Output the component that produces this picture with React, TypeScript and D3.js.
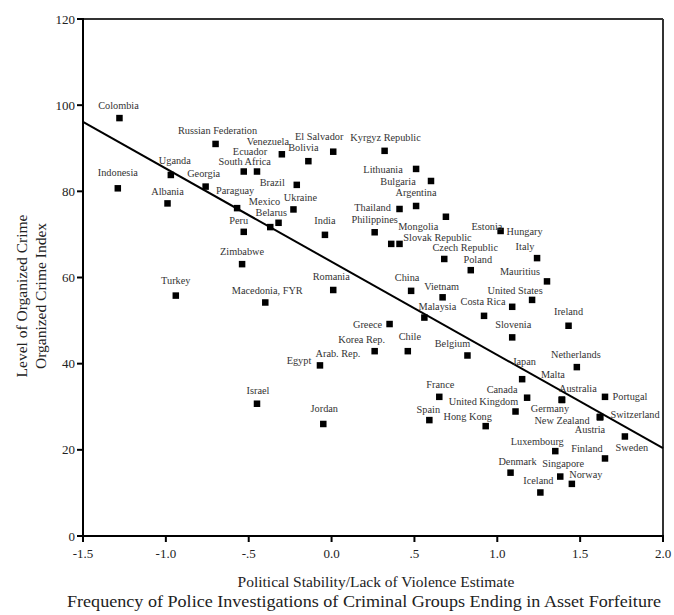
import React from "react";
import * as d3 from "d3";

const countries: string[] = [
  "Colombia", "Indonesia", "Russian Federation", "Uganda", "Georgia", "Albania",
  "South Africa", "Ecuador", "Venezuela", "Bolivia", "El Salvador", "Kyrgyz Republic",
  "Lithuania", "Bulgaria", "Argentina", "Thailand", "Brazil", "Ukraine", "Mexico",
  "Belarus", "Paraguay", "Peru", "India", "Philippines", "Mongolia", "Slovak Republic",
  "Estonia", "Hungary", "Czech Republic", "Poland", "Italy", "Mauritius", "United States",
  "", "Costa Rica", "Slovenia", "Ireland", "Romania", "China", "Vietnam", "Malaysia",
  "Greece", "Korea Rep.", "Egypt", "Chile", "Belgium", "Japan", "Netherlands", "Canada",
  "Malta", "Australia", "Germany", "United Kingdom", "Portugal", "Switzerland",
  "New Zealand", "Austria", "Sweden", "France", "Spain", "Hong Kong", "Luxembourg",
  "Finland", "Denmark", "Singapore", "Norway", "Iceland", "Zimbabwe", "Turkey",
  "Macedonia, FYR", "Israel", "Jordan",
];

const stability: number[] = [
  -1.28, -1.29, -0.70, -0.97, -0.76, -0.99,
  -0.53, -0.45, -0.30, -0.14, 0.01, 0.32,
  0.51, 0.60, 0.51, 0.41, -0.21, -0.23, -0.32,
  -0.37, -0.57, -0.53, -0.04, 0.26, 0.36, 0.41,
  0.69, 1.02, 0.68, 0.84, 1.24, 1.30, 1.21,
  1.09, 0.92, 1.09, 1.43, 0.01, 0.48, 0.67, 0.56,
  0.35, 0.26, -0.07, 0.46, 0.82, 1.15, 1.48, 1.18,
  1.39, 1.39, 1.39, 1.11, 1.65, 1.62,
  1.62, 1.62, 1.77, 0.65, 0.59, 0.93, 1.35,
  1.65, 1.08, 1.38, 1.45, 1.26, -0.54, -0.94,
  -0.40, -0.45, -0.05,
];

const crimeIndex: number[] = [
  97.0, 80.7, 91.0, 83.8, 81.1, 77.2,
  84.6, 84.6, 88.6, 87.0, 89.2, 89.4,
  85.2, 82.4, 76.6, 75.9, 81.5, 75.8, 72.7,
  71.7, 76.1, 70.6, 69.9, 70.5, 67.8, 67.8,
  74.1, 70.8, 64.3, 61.7, 64.5, 59.1, 54.8,
  53.2, 51.1, 46.1, 48.8, 57.1, 56.9, 55.4, 50.7,
  49.2, 42.9, 39.6, 42.9, 41.9, 36.4, 39.2, 32.1,
  31.6, 31.6, 31.6, 28.9, 32.3, 27.6,
  27.6, 27.6, 23.1, 32.3, 26.9, 25.5, 19.7,
  18.0, 14.7, 13.8, 12.1, 10.1, 63.1, 55.8,
  54.2, 30.7, 26.0,
];

const fitX: number[] = [-1.5, 2.0];
const fitY: number[] = [96.1, 20.4];

const xTicks: number[] = [-1.5, -1.0, -0.5, 0.0, 0.5, 1.0, 1.5, 2.0];
const xTickLabels: string[] = ["-1.5", "-1.0", "-.5", "0.0", ".5", "1.0", "1.5", "2.0"];
const yTicks: number[] = [0, 20, 40, 60, 80, 100, 120];

const xTitle: string[] = [
  "Political Stability/Lack of Violence Estimate",
  "Frequency of Police Investigations of Criminal Groups Ending in Asset Forfeiture",
];
const yTitle: string[] = ["Level of Organized Crime", "Organized Crime Index"];

// label layout (pixel offsets of label centre from marker centre)
const labelLayout: Record<string, { text: string; dx: number; dy: number }[]> = {
  Colombia: [{ text: "Colombia", dx: -1, dy: -13 }],
  Indonesia: [{ text: "Indonesia", dx: 0, dy: -15.5 }],
  "Russian Federation": [{ text: "Russian Federation", dx: 2, dy: -13.5 }],
  Uganda: [{ text: "Uganda", dx: 4, dy: -15 }],
  Georgia: [{ text: "Georgia", dx: -2, dy: -13.5 }],
  Albania: [{ text: "Albania", dx: 0, dy: -12.5 }],
  "South Africa": [{ text: "South Africa", dx: 1, dy: -10 }],
  Ecuador: [{ text: "Ecuador", dx: -7, dy: -20.5 }],
  Venezuela: [{ text: "Venezuela", dx: -14, dy: -13 }],
  Bolivia: [{ text: "Bolivia", dx: -5, dy: -13.5 }],
  "El Salvador": [{ text: "El Salvador", dx: -14, dy: -15.5 }],
  "Kyrgyz Republic": [{ text: "Kyrgyz Republic", dx: 1, dy: -13.5 }],
  Lithuania: [{ text: "Lithuania", dx: -33, dy: 0 }],
  Bulgaria: [{ text: "Bulgaria", dx: -33, dy: 0 }],
  Argentina: [{ text: "Argentina", dx: 0, dy: -14 }],
  Thailand: [{ text: "Thailand", dx: -27, dy: -2 }],
  Brazil: [{ text: "Brazil", dx: -24.5, dy: -2 }],
  Ukraine: [{ text: "Ukraine", dx: 7, dy: -12.5 }],
  Mexico: [{ text: "Mexico", dx: -14, dy: -21 }],
  Belarus: [{ text: "Belarus", dx: 1, dy: -14.5 }],
  Paraguay: [{ text: "Paraguay", dx: -2, dy: -17.5 }],
  Peru: [{ text: "Peru", dx: -5, dy: -11.5 }],
  India: [{ text: "India", dx: 0, dy: -14 }],
  Philippines: [{ text: "Philippines", dx: 0, dy: -12.5 }],
  Mongolia: [{ text: "Mongolia", dx: 27, dy: -18 }],
  "Slovak Republic": [{ text: "Slovak Republic", dx: 38, dy: -6.5 }],
  Estonia: [{ text: "Estonia", dx: 41, dy: 10 }],
  Hungary: [{ text: "Hungary", dx: 24, dy: 0 }],
  "Czech Republic": [{ text: "Czech Republic", dx: 21, dy: -11.5 }],
  Poland: [{ text: "Poland", dx: 7, dy: -11 }],
  Italy: [{ text: "Italy", dx: -12, dy: -12 }],
  Mauritius: [{ text: "Mauritius", dx: -27, dy: -10 }],
  "United States": [{ text: "United States", dx: -17, dy: -9.5 }],
  "": [],
  "Costa Rica": [{ text: "Costa Rica", dx: -1, dy: -14.5 }],
  Slovenia: [{ text: "Slovenia", dx: 1, dy: -12.5 }],
  Ireland: [{ text: "Ireland", dx: 0, dy: -14 }],
  Romania: [{ text: "Romania", dx: -2, dy: -13.5 }],
  China: [{ text: "China", dx: -4, dy: -13.5 }],
  Vietnam: [{ text: "Vietnam", dx: -1, dy: -10.5 }],
  Malaysia: [{ text: "Malaysia", dx: 13, dy: -11 }],
  Greece: [{ text: "Greece", dx: -22, dy: 0 }],
  "Korea Rep.": [{ text: "Korea Rep.", dx: -13, dy: -11.5 }],
  Egypt: [
    { text: "Egypt", dx: -21, dy: -5 },
    { text: "Arab. Rep.", dx: 18, dy: -12 },
  ],
  Chile: [{ text: "Chile", dx: 2, dy: -14.5 }],
  Belgium: [{ text: "Belgium", dx: -15, dy: -12.5 }],
  Japan: [{ text: "Japan", dx: 2, dy: -18 }],
  Netherlands: [{ text: "Netherlands", dx: -1, dy: -12.5 }],
  Canada: [{ text: "Canada", dx: -25, dy: -8.5 }],
  Malta: [{ text: "Malta", dx: -9, dy: -25 }],
  Australia: [{ text: "Australia", dx: 16, dy: -11.5 }],
  Germany: [{ text: "Germany", dx: -12, dy: 8.5 }],
  "United Kingdom": [{ text: "United Kingdom", dx: -32, dy: -10 }],
  Portugal: [{ text: "Portugal", dx: 25, dy: 0 }],
  Switzerland: [{ text: "Switzerland", dx: 35, dy: -3 }],
  "New Zealand": [{ text: "New Zealand", dx: -38, dy: 3.5 }],
  Austria: [{ text: "Austria", dx: -10, dy: 12.5 }],
  Sweden: [{ text: "Sweden", dx: 7, dy: 10.5 }],
  France: [{ text: "France", dx: 1, dy: -12.5 }],
  Spain: [{ text: "Spain", dx: -1, dy: -10.5 }],
  "Hong Kong": [{ text: "Hong Kong", dx: -18, dy: -9.5 }],
  Luxembourg: [{ text: "Luxembourg", dx: -18, dy: -9.5 }],
  Finland: [{ text: "Finland", dx: -18, dy: -10 }],
  Denmark: [{ text: "Denmark", dx: 7, dy: -11 }],
  Singapore: [{ text: "Singapore", dx: 3, dy: -13 }],
  Norway: [{ text: "Norway", dx: 14, dy: -9 }],
  Iceland: [{ text: "Iceland", dx: -2, dy: -12.5 }],
  Zimbabwe: [{ text: "Zimbabwe", dx: 0, dy: -12.5 }],
  Turkey: [{ text: "Turkey", dx: 0, dy: -15 }],
  "Macedonia, FYR": [{ text: "Macedonia, FYR", dx: 2, dy: -12.5 }],
  Israel: [{ text: "Israel", dx: 1, dy: -13 }],
  Jordan: [{ text: "Jordan", dx: 1, dy: -15.5 }],
};

const W = 674;
const H = 615;
const L = 83, R = 663, T = 19, B = 536;
const FONT = "'Liberation Serif', 'Times New Roman', serif";

export default function App() {
  const x = d3.scaleLinear().domain([-1.5, 2.0]).range([L, R]);
  const y = d3.scaleLinear().domain([0, 120]).range([B, T]);
  const line = d3
    .line<number>()
    .x((d) => x(d))
    .y((_, i) => y(fitY[i]));
  const sq = 6.5;

  return (
    <svg
      width={W}
      height={H}
      style={{ position: "absolute", left: 0, top: 0, background: "#fff" }}
      fontFamily={FONT}
    >
      <rect x={0} y={0} width={W} height={H} fill="#fff" />
      {/* frame top & right */}
      <line x1={L} x2={R} y1={T} y2={T} stroke="#333" strokeWidth={2} />
      <line x1={R} x2={R} y1={T} y2={B} stroke="#333" strokeWidth={2} />
      {/* axes */}
      <line x1={L} x2={L} y1={T - 1} y2={B + 1} stroke="#000" strokeWidth={2} />
      <line x1={L - 1} x2={R + 1} y1={B} y2={B} stroke="#000" strokeWidth={2} />
      {yTicks.map((t) => (
        <g key={"y" + t}>
          <line x1={L - 6} x2={L} y1={y(t)} y2={y(t)} stroke="#000" strokeWidth={2} />
          <text x={L - 8} y={y(t)} dy="0.35em" textAnchor="end" fontSize={13} fill="#222">
            {t}
          </text>
        </g>
      ))}
      {xTicks.map((t, i) => (
        <g key={"x" + t}>
          <line x1={x(t)} x2={x(t)} y1={B} y2={B + 6} stroke="#000" strokeWidth={2} />
          <text x={x(t)} y={B + 17} dy="0.35em" textAnchor="middle" fontSize={13} fill="#222">
            {xTickLabels[i]}
          </text>
        </g>
      ))}
      {/* regression line */}
      <path d={line(fitX) || ""} fill="none" stroke="#000" strokeWidth={2} />
      {/* points */}
      {countries.map((c, i) => (
        <rect
          key={"p" + i}
          x={x(stability[i]) - sq / 2}
          y={y(crimeIndex[i]) - sq / 2}
          width={sq}
          height={sq}
          fill="#000"
        />
      ))}
      {/* labels */}
      {countries.map((c, i) =>
        (labelLayout[c] || []).map((lb, j) => (
          <text
            key={"l" + i + "_" + j}
            x={x(stability[i]) + lb.dx}
            y={y(crimeIndex[i]) + lb.dy}
            dy="0.35em"
            textAnchor="middle"
            fontSize={10.3}
            fill="#333"
          >
            {lb.text}
          </text>
        ))
      )}
      {/* x title */}
      <text x={376} y={582} dy="0.35em" textAnchor="middle" fontSize={15.5} fill="#222">
        {xTitle[0]}
      </text>
      <text
        x={364}
        y={601}
        dy="0.35em"
        textAnchor="middle"
        fontSize={16}
        fill="#222"
        textLength={594}
        lengthAdjust="spacingAndGlyphs"
      >
        {xTitle[1]}
      </text>
      {/* y title */}
      <text
        transform="translate(22,296) rotate(-90)"
        dy="0.35em"
        textAnchor="middle"
        fontSize={15.5}
        fill="#222"
      >
        {yTitle[0]}
      </text>
      <text
        transform="translate(41,296) rotate(-90)"
        dy="0.35em"
        textAnchor="middle"
        fontSize={15.5}
        fill="#222"
      >
        {yTitle[1]}
      </text>
    </svg>
  );
}
